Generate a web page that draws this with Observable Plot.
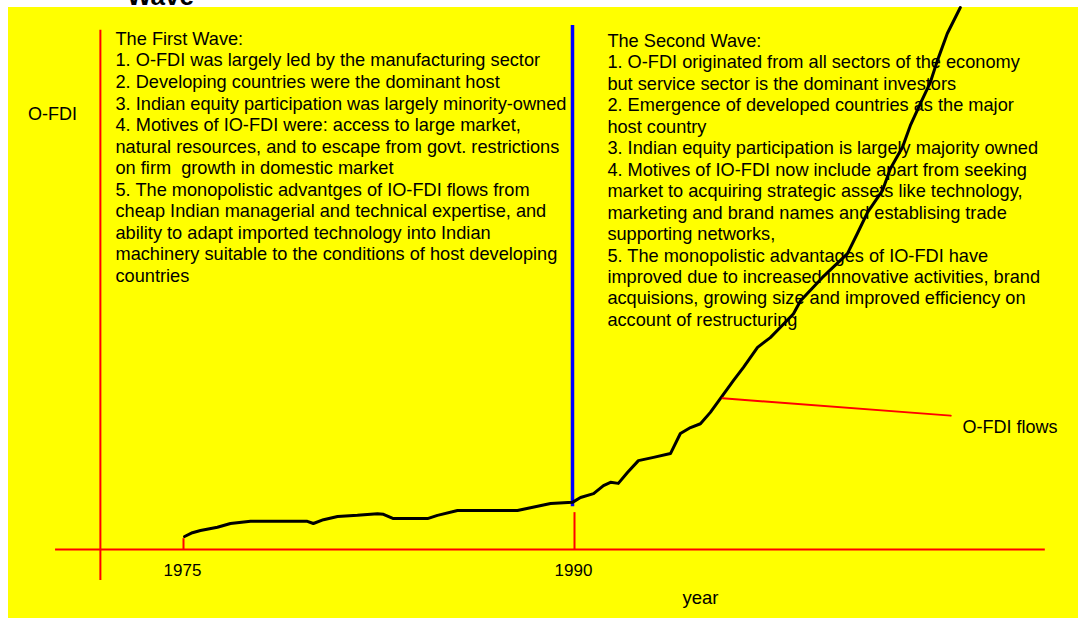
<!DOCTYPE html>
<html>
<head>
<meta charset="utf-8">
<script src="https://cdn.jsdelivr.net/npm/d3@7"></script>
<script src="https://cdn.jsdelivr.net/npm/@observablehq/plot@0.6"></script>
<style>
  html, body { margin: 0; padding: 0; background: #ffffff; overflow: hidden; width: 1078px; height: 618px; }
  #wrap { position: relative; width: 1078px; height: 618px; }
  #title { position: absolute; left: 127px; top: -17px; font: bold 26px "Liberation Sans", Arial, sans-serif; line-height: 26px; color: #000; z-index: 2; white-space: nowrap; }
  #chart { position: absolute; left: 8px; top: 7px; }
  #chart svg text { white-space: pre; }
</style>
</head>
<body>
<div id="wrap">
  <div id="title">Wave</div>
  <div id="chart"></div>
</div>
<script>
// ---- data (x = year, y = O-FDI, arbitrary units 0..100) ----
const years = [1975.08, 1975.38, 1975.69, 1976.34, 1976.84, 1977.61, 1978.76, 1979.79, 1980.02, 1980.41,
  1980.95, 1981.71, 1982.48, 1982.71, 1983.09, 1984.40, 1984.78, 1985.55, 1987.85, 1988.35,
  1989.12, 1989.96, 1990.27, 1990.77, 1991.15, 1991.42, 1991.72, 1992.07, 1992.49, 1993.07,
  1993.72, 1994.10, 1994.49, 1994.87, 1995.25, 1995.64, 1996.14, 1996.52, 1997.06, 1997.55,
  1997.94, 1998.44, 1998.71, 1999.55, 2000.51, 2000.89, 2001.28, 2001.85, 2002.16, 2002.62,
  2002.92, 2003.31, 2003.69, 2003.96, 2004.34, 2004.84];
const ofdi = [2.4, 3.1, 3.5, 4.1, 4.8, 5.2, 5.2, 5.2, 4.8, 5.5,
  6.1, 6.3, 6.6, 6.5, 5.7, 5.7, 6.3, 7.2, 7.2, 7.7,
  8.5, 8.7, 9.6, 10.3, 11.8, 12.4, 12.2, 14.2, 16.4, 17.0,
  17.7, 21.4, 22.5, 23.2, 25.3, 27.9, 31.2, 33.6, 37.3, 39.1,
  41.0, 43.5, 45.9, 50.2, 54.6, 58.3, 62.2, 66.2, 70.3, 74.2,
  78.2, 82.3, 86.2, 90.2, 95.2, 100.0];

const tickYears = [1975, 1990];
const tickLabels = ["1975", "1990"];
const tickTops = [2.0, 6.8];
const waveBoundary = [1990];

const firstWave = [
  "The First Wave:",
  "1. O-FDI was largely led by the manufacturing sector",
  "2. Developing countries were the dominant host",
  "3. Indian equity participation was largely minority-owned",
  "4. Motives of IO-FDI were: access to large market,",
  "natural resources, and to escape from govt. restrictions",
  "on firm  growth in domestic market",
  "5. The monopolistic advantges of IO-FDI flows from",
  "cheap Indian managerial and technical expertise, and",
  "ability to adapt imported technology into Indian",
  "machinery suitable to the conditions of host developing",
  "countries"
];
const secondWave = [
  "The Second Wave:",
  "1. O-FDI originated from all sectors of the economy",
  "but service sector is the dominant investors",
  "2. Emergence of developed countries as the major",
  "host country",
  "3. Indian equity participation is largely majority owned",
  "4. Motives of IO-FDI now include apart from seeking",
  "market to acquiring strategic assets like technology,",
  "marketing and brand names and establising trade",
  "supporting networks,",
  "5. The monopolistic advantages of IO-FDI have",
  "improved due to increased innovative activities, brand",
  "acquisions, growing size and improved efficiency on",
  "account of restructuring"
];

const yLabel = "O-FDI";
const xLabel = "year";
const seriesLabel = "O-FDI flows";

// ---- build table ----
const series = years.map((y, i) => ({year: y, value: ofdi[i]}));
const ticks = tickYears.map((y, i) => ({year: y, label: tickLabels[i], top: tickTops[i]}));

// annotation anchors (data units)
const axisX0 = 1970.13, axisX1 = 2008.1, yAxisYear = 1971.85, yAxisBottom = -5.7, yAxisTop = 95.8;
const pointer = [{year: 1995.72, value: 27.9}, {year: 2004.47, value: 24.7}];

const font = '"Liberation Sans", Arial, sans-serif';
const red = "#ff0000";

const chart = Plot.plot({
  width: 1070,
  height: 611,
  style: {background: "#ffff00", fontFamily: font, overflow: "visible"},
  x: {domain: [1975, 1990], range: [174, 565], axis: null},
  y: {domain: [0, 100], range: [542, 0], axis: null},
  marks: [
    // x axis line
    Plot.ruleY([0], {x1: axisX0, x2: axisX1, stroke: red, strokeWidth: 2}),
    // y axis line
    Plot.ruleX([yAxisYear], {y1: yAxisBottom, y2: yAxisTop, stroke: red, strokeWidth: 2}),
    // tick drop lines
    Plot.ruleX(ticks, {x: "year", y1: 0, y2: "top", stroke: red, strokeWidth: 2, dx: 1}),
    // boundary between waves
    Plot.ruleX(waveBoundary, {y1: 7.9, y2: 96.7, stroke: "#0000ff", strokeWidth: 3.5, dx: -1}),
    // notes
    Plot.text([firstWave.join("\n")], {x: 1972.43, y: 95.94, text: d => d, textAnchor: "start", lineAnchor: "top",
      fontSize: 18.2, lineHeight: 1.185, fill: "#000", fontFamily: font}),
    Plot.text([secondWave.join("\n")], {x: 1991.30, y: 95.57, text: d => d, textAnchor: "start", lineAnchor: "top",
      fontSize: 18.2, lineHeight: 1.18, fill: "#000", fontFamily: font}),
    // the curve
    Plot.line(series, {x: "year", y: "value", stroke: "#000", strokeWidth: 3, strokeLinejoin: "round", strokeLinecap: "round"}),
    // pointer to label
    Plot.line(pointer, {x: "year", y: "value", stroke: red, strokeWidth: 2}),
    Plot.text([seriesLabel], {x: 2004.92, y: 22.5, text: d => d, textAnchor: "start", lineAnchor: "middle", fontSize: 18, fill: "#000", fontFamily: font}),
    // tick labels
    Plot.text(ticks, {x: "year", y: -3.9, text: "label", textAnchor: "middle", lineAnchor: "middle", fontSize: 17, fill: "#000", fontFamily: font}),
    // axis labels
    Plot.text([yLabel], {x: 1970.01, y: 80.35, text: d => d, textAnchor: "middle", lineAnchor: "middle", fontSize: 18, fill: "#000", fontFamily: font}),
    Plot.text([xLabel], {x: 1994.87, y: -9.04, text: d => d, textAnchor: "middle", lineAnchor: "middle", fontSize: 18.5, fill: "#000", fontFamily: font})
  ]
});
document.getElementById("chart").appendChild(chart);
</script>
</body>
</html>
